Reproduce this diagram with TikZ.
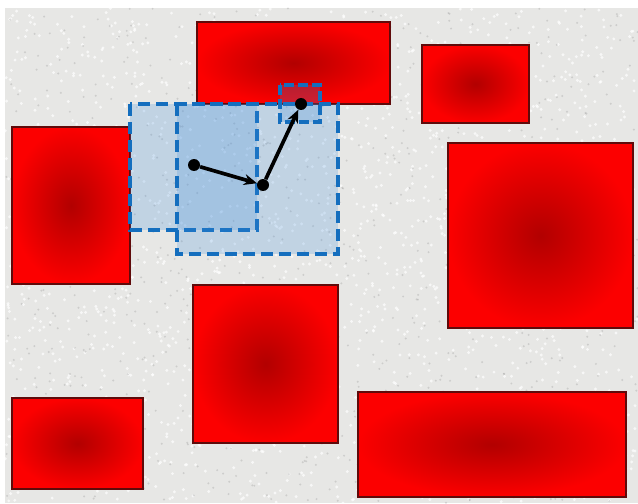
\documentclass[tikz,border=0pt]{standalone}
\usetikzlibrary{arrows.meta,positioning}

\definecolor{obsred}{RGB}{252,0,0}
\definecolor{obsdark}{RGB}{178,0,0}
\definecolor{obsedge}{RGB}{95,10,10}
\definecolor{winblue}{RGB}{20,110,190}
\definecolor{winfill}{RGB}{60,140,220}
\definecolor{bggray}{RGB}{231,231,229}

\tikzset{
  obstacle/.style={draw=obsedge, line width=0.6pt, shading=radial,
    inner color=obsdark, outer color=obsred},
  window/.style={draw=winblue, fill=winfill, fill opacity=0.22,
    line width=2.1pt, dash pattern=on 0.25cm off 0.11cm},
  state/.style={circle, fill=black, inner sep=0pt, minimum size=0.24cm},
  move/.style={-{Stealth[length=0.26cm, width=0.22cm]}, line width=2.1pt}
}

\begin{document}
\begin{tikzpicture}[x=0.02cm, y=-0.02cm]
  \useasboundingbox (0,0) rectangle (638,503);
  \fill[white] (0,0) rectangle (638,503);
  \fill[bggray] (5,8) rectangle (638,503);
  % speckled floor
  \pgfmathsetseed{11}
  \foreach \i in {1,...,1800} {
    \fill[white, opacity=0.7] (5+rnd*633, 8+rnd*495) circle (1.6);
  }
  \foreach \i in {1,...,900} {
    \fill[gray, opacity=0.25] (5+rnd*633, 8+rnd*495) circle (1.1);
  }

  % obstacles
  \path[obstacle] (197,22) rectangle (390,104);
  \path[obstacle] (422,45) rectangle (529,123);
  \path[obstacle] (12,127) rectangle (130,284);
  \path[obstacle] (448,143) rectangle (633,328);
  \path[obstacle] (193,285) rectangle (338,443);
  \path[obstacle] (12,398) rectangle (143,489);
  \path[obstacle] (358,392) rectangle (626,497);

  % search windows
  \path[window] (130,104) rectangle (257,230);
  \path[window] (177,104) rectangle (338,254);
  \path[window, line width=1.8pt, dash pattern=on 0.2cm off 0.08cm] (280,85) rectangle (320,122);

  % states
  \node[state] (s1) at (194,165) {};
  \node[state] (s2) at (263,185) {};
  \node[state] (s3) at (301,104) {};

  \draw[move] (s1) -- (s2);
  \draw[move] (s2) -- (s3);
\end{tikzpicture}
\end{document}
